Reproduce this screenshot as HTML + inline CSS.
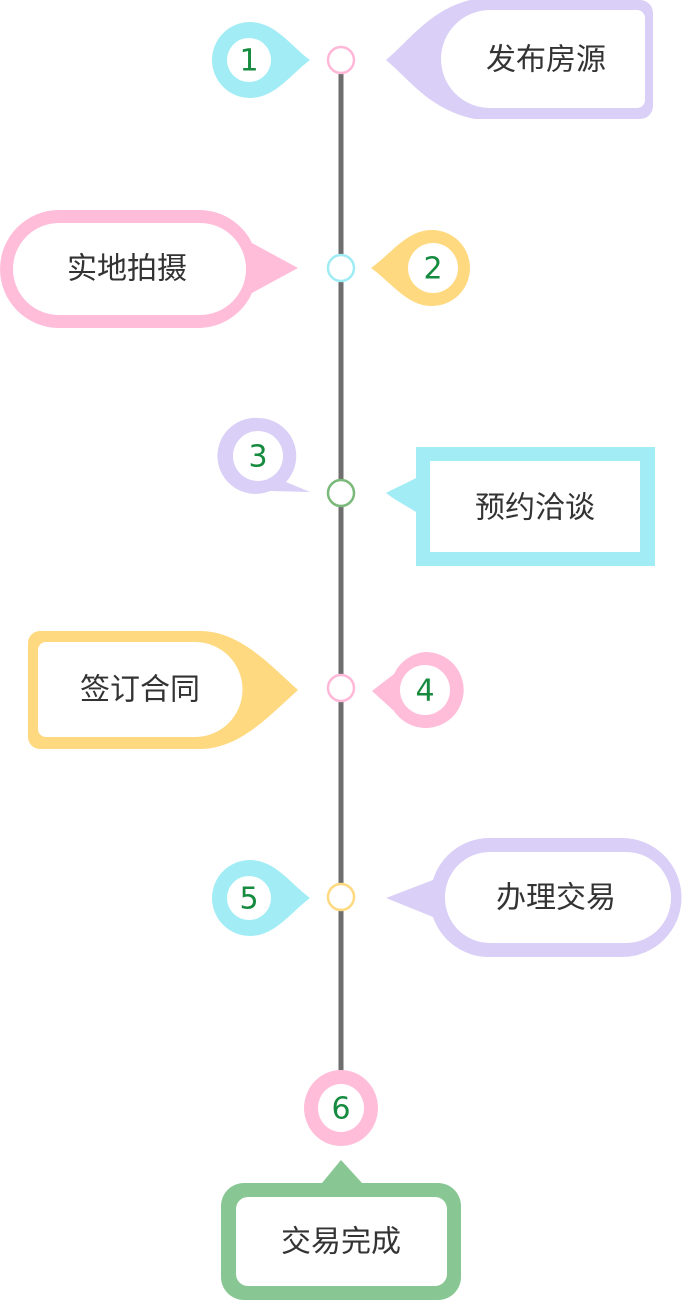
<!DOCTYPE html>
<html><head><meta charset="utf-8"><style>
html,body{margin:0;padding:0;background:#fff;}
svg{display:block}
text{font-family:"Liberation Sans","Noto Sans CJK SC",sans-serif;}
.t{font-size:30px;fill:#333;text-anchor:middle;dominant-baseline:central;}
.n{font-size:30px;fill:#168a3e;text-anchor:middle;dominant-baseline:central;font-family:"DejaVu Sans",sans-serif;}
</style></head><body>
<svg width="684" height="1307" viewBox="0 0 684 1307" xmlns="http://www.w3.org/2000/svg">
<line x1="341" y1="70" x2="341" y2="1072" stroke="#6e6e6e" stroke-width="5"/>
<g fill="#fff" stroke-width="2.5">
<circle cx="341" cy="60" r="13" stroke="#ffb8d8"/>
<circle cx="341" cy="268" r="13" stroke="#a0ecf4"/>
<circle cx="341" cy="493" r="13" stroke="#7ab97a"/>
<circle cx="341" cy="688" r="13" stroke="#ffb8d8"/>
<circle cx="341" cy="897" r="13" stroke="#ffd980"/>
</g>

<path d="M250,22 C275,22 290,45 310,60 C290,75 275,98 250,98 A38,38 0 0 1 250,22Z" fill="#a2edf5"/>
<circle cx="249" cy="60" r="22" fill="#fff"/><text class="n" x="249" y="61">1</text>
<path d="M432,230 A38,38 0 0 1 432,306 C407,306 392,283 371,268 C392,253 407,230 432,230Z" fill="#ffd980"/>
<circle cx="433" cy="268" r="25" fill="#fff"/><text class="n" x="433" y="269">2</text>
<path d="M258,418 A38,38 0 0 1 286,482 L310,492 L270,491 A38,38 0 1 1 258,418Z" fill="#dacff6"/>
<circle cx="258" cy="456" r="25" fill="#fff"/><text class="n" x="258" y="457">3</text>
<path d="M425,652 A38,38 0 1 1 394,711 L372,691 L394,674 A38,38 0 0 1 425,652Z" fill="#ffbdd9"/>
<circle cx="425" cy="690" r="25" fill="#fff"/><text class="n" x="425" y="691">4</text>
<path d="M250,860 C275,860 290,883 310,898 C290,913 275,936 250,936 A38,38 0 0 1 250,860Z" fill="#a2edf5"/>
<circle cx="249" cy="898" r="22" fill="#fff"/><text class="n" x="249" y="899">5</text>
<ellipse cx="341" cy="1108" rx="37" ry="38" fill="#ffbdd9"/>
<ellipse cx="341" cy="1108" rx="23" ry="24" fill="#fff"/><text class="n" x="341" y="1109">6</text>

<path d="M386,60 C410,40 430,10 470,0 L640,0 A13,13 0 0 1 653,13 L653,106 A13,13 0 0 1 640,119 L475,119 C430,110 410,80 386,60Z" fill="#dacff6"/>
<path d="M490,10 L637,10 A8,8 0 0 1 645,18 L645,100 A8,8 0 0 1 637,108 L490,108 A48,48 0 0 1 490,10Z" fill="#fff"/>
<text class="t" x="546" y="60">发布房源</text>

<path d="M59,210 L199,210 A59,59 0 0 1 252,243 L298,268 L252,293 A59,59 0 0 1 199,328 L59,328 A59,59 0 0 1 59,210Z" fill="#ffbdd9"/>
<rect x="13" y="223" width="233" height="92" rx="46" fill="#fff"/>
<text class="t" x="127" y="269">实地拍摄</text>

<path d="M416,447 L655,447 L655,566 L416,566 L416,512 C405,505 395,500 386,493 C395,488 405,484 416,478Z" fill="#a2edf5"/>
<rect x="430" y="461" width="210" height="91" fill="#fff"/>
<text class="t" x="535" y="508">预约洽谈</text>

<path d="M40,631 L200,631 C240,631 270,665 298,690 C270,715 240,749 200,749 L40,749 A12,12 0 0 1 28,737 L28,643 A12,12 0 0 1 40,631Z" fill="#ffd980"/>
<path d="M46,642 L195,642 A47,47 0 0 1 195,737 L46,737 A8,8 0 0 1 38,729 L38,650 A8,8 0 0 1 46,642Z" fill="#fff"/>
<text class="t" x="140" y="690">签订合同</text>

<path d="M490,838 L622,838 A59,59 0 0 1 622,957 L490,957 A59,59 0 0 1 433,917 L386,898 L433,880 A59,59 0 0 1 490,838Z" fill="#dacff6"/>
<rect x="445" y="852" width="226" height="91" rx="45" fill="#fff"/>
<text class="t" x="556" y="898">办理交易</text>

<path d="M341,1160 L362,1183 L438,1183 A23,23 0 0 1 461,1206 L461,1277 A23,23 0 0 1 438,1300 L244,1300 A23,23 0 0 1 221,1277 L221,1206 A23,23 0 0 1 244,1183 L322,1183Z" fill="#88c793"/>
<rect x="236" y="1197" width="211" height="89" rx="12" fill="#fff"/>
<text class="t" x="341" y="1242">交易完成</text>
</svg>
</body></html>
